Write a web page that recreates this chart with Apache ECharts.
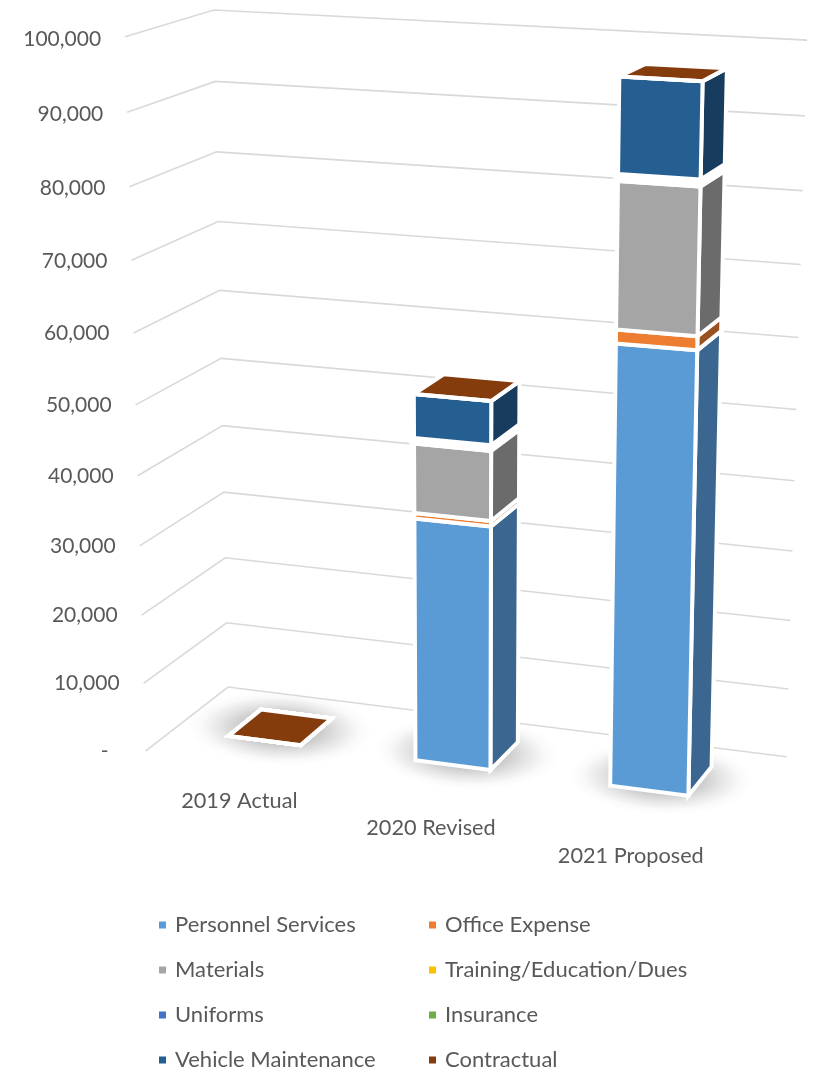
<!DOCTYPE html>
<html>
<head>
<meta charset="utf-8">
<style>html,body{margin:0;padding:0;background:#fff}#chart{width:814px;height:1073px}</style>
<script src="https://cdn.jsdelivr.net/npm/echarts@6/dist/echarts.min.js"></script>
</head>
<body>
<div id="chart"></div>
<script>
// Budget figures by year
const categories = ['2019 Actual', '2020 Revised', '2021 Proposed'];
const personnelServices = [0, 35010, 61760];
const officeExpense = [0, 780, 1880];
const materials = [0, 9780, 19660];
const trainingEducationDues = [0, 220, 250];
const uniforms = [0, 260, 300];
const insurance = [0, 300, 360];
const vehicleMaintenance = [0, 6120, 12630];
const contractual = [0, 0, 0];
const tickValues = [0, 10000, 20000, 30000, 40000, 50000, 60000, 70000, 80000, 90000, 100000];
const tickLabels = ['-', '10,000', '20,000', '30,000', '40,000', '50,000', '60,000', '70,000', '80,000', '90,000', '100,000'];

const stackOrder = [
  { name: 'Personnel Services', values: personnelServices, color: '#5B9BD5', side: '#3A668F' },
  { name: 'Office Expense', values: officeExpense, color: '#ED7D31', side: '#9A5120' },
  { name: 'Materials', values: materials, color: '#A5A5A5', side: '#6B6B6B' },
  { name: 'Training/Education/Dues', values: trainingEducationDues, color: '#FFC000', side: '#A67D00' },
  { name: 'Uniforms', values: uniforms, color: '#4472C4', side: '#2C4A7F' },
  { name: 'Insurance', values: insurance, color: '#70AD47', side: '#49702E' },
  { name: 'Vehicle Maintenance', values: vehicleMaintenance, color: '#255E91', side: '#173C5D' },
  { name: 'Contractual', values: contractual, color: '#843C0C', side: '#562708' }
];

// Three-point perspective: wall corner at the origin, one vanishing point per scene axis
const ORIGIN = [228, 687];
const VANISH_X = [-8860, -449], WEIGHT_X = -0.0579;
const VANISH_Y = [466, 11970], WEIGHT_Y = -0.0566;
const VANISH_Z = [1658, -423], WEIGHT_Z = -0.05455;
const BAR_HALF_WIDTH = 0.195;     // share of a category band
const BAR_SHIFT = -0.002;
const BAR_Z_FRONT = 0.665, BAR_Z_BACK = 0.255;
const TEXT_COLOR = '#595959';
const FONT_FAMILY = 'Lato, "Open Sans", sans-serif';

function project(X, Y, Z) {
  const w = 1 + WEIGHT_X * X + WEIGHT_Y * Y + WEIGHT_Z * Z;
  return [
    (ORIGIN[0] + WEIGHT_X * X * VANISH_X[0] + WEIGHT_Y * Y * VANISH_Y[0] + WEIGHT_Z * Z * VANISH_Z[0]) / w,
    (ORIGIN[1] + WEIGHT_X * X * VANISH_X[1] + WEIGHT_Y * Y * VANISH_Y[1] + WEIGHT_Z * Z * VANISH_Z[1]) / w
  ];
}

// Scene coordinates read through the chart's own axes
function sceneX(params, api, index) {
  return (api.coord([index, 0])[0] - params.coordSys.x) / params.coordSys.width;
}
function sceneY(params, api, value) {
  const c = params.coordSys;
  return (c.y + c.height - api.coord([0, value])[1]) / c.height;
}
function bandShare(params, api) {
  return api.size([1, 0])[0] / params.coordSys.width;
}

function face(points, fill) {
  return {
    type: 'polygon',
    shape: { points },
    style: { fill, stroke: '#fff', lineWidth: 4, lineJoin: 'miter' }
  };
}

function renderSegment(color, side) {
  return function (params, api) {
    const index = api.value(0);
    const cx = sceneX(params, api, index) + BAR_SHIFT;
    const half = bandShare(params, api) * BAR_HALF_WIDTH;
    const y0 = sceneY(params, api, api.value(1));
    const y1 = sceneY(params, api, api.value(2));
    const l = cx - half, r = cx + half, f = BAR_Z_FRONT, b = BAR_Z_BACK;
    return {
      type: 'group',
      children: [
        face([project(l, y1, b), project(r, y1, b), project(r, y1, f), project(l, y1, f)], color),
        face([project(r, y0, f), project(r, y0, b), project(r, y1, b), project(r, y1, f)], side),
        face([project(l, y0, f), project(r, y0, f), project(r, y1, f), project(l, y1, f)], color)
      ]
    };
  };
}

function renderGridline(params, api) {
  const y = sceneY(params, api, api.value(0));
  return {
    type: 'polyline',
    shape: { points: [project(0, y, 1), project(0, y, 0), project(1, y, 0)] },
    style: { fill: 'none', stroke: '#D9D9D9', lineWidth: 1.6 }
  };
}

function renderTickLabel(params, api) {
  const value = api.value(0);
  const p = project(0, sceneY(params, api, value), 1);
  // the dash for zero sits further in, as in an accounting number format
  const inset = value === 0 ? 37 : 24;
  const lift = Math.max(0, (value - 60000) / 40000) * 3;
  return {
    type: 'text',
    style: {
      text: tickLabels[params.dataIndex], x: p[0] - inset, y: p[1] + lift,
      fill: TEXT_COLOR, font: '21px ' + FONT_FAMILY, align: 'right', verticalAlign: 'middle'
    }
  };
}

function renderCategoryLabel(params, api) {
  const index = api.value(0);
  const p = project(sceneX(params, api, index), 0, 1);
  return {
    type: 'text',
    style: {
      text: categories[index], x: p[0] + 1, y: p[1] + 38 + index,
      fill: TEXT_COLOR, font: '21.7px ' + FONT_FAMILY, align: 'center', verticalAlign: 'middle'
    }
  };
}

// Soft pool of shade on the floor under each column
function renderFloorShadow(params, api) {
  const cx = sceneX(params, api, api.value(0));
  const p = project(cx, 0, (BAR_Z_BACK + BAR_Z_FRONT) / 2 + 0.02);
  return {
    type: 'circle',
    x: p[0], y: p[1],
    scaleX: 1, scaleY: 0.4,
    rotation: -0.04,
    shape: { cx: 0, cy: 0, r: 92 },
    style: {
      fill: {
        type: 'radial', x: 0.5, y: 0.5, r: 0.5,
        colorStops: [
          { offset: 0, color: 'rgba(0,0,0,0.26)' },
          { offset: 0.45, color: 'rgba(0,0,0,0.2)' },
          { offset: 0.65, color: 'rgba(0,0,0,0.1)' },
          { offset: 0.85, color: 'rgba(0,0,0,0.025)' },
          { offset: 1, color: 'rgba(0,0,0,0)' }
        ]
      }
    }
  };
}

const baseSeries = [
  { type: 'custom', name: 'shadows', silent: true, renderItem: renderFloorShadow, data: categories.map((c, i) => [i]), encode: { x: 0 } },
  { type: 'custom', name: 'gridlines', silent: true, renderItem: renderGridline, data: tickValues.map(v => [v]), encode: { y: 0 } },
  { type: 'custom', name: 'tickLabels', silent: true, renderItem: renderTickLabel, data: tickValues.map(v => [v]), encode: { y: 0 } },
  { type: 'custom', name: 'categoryLabels', silent: true, renderItem: renderCategoryLabel, data: categories.map((c, i) => [i]), encode: { x: 0 } }
];

const running = categories.map(() => 0);
const stackSeries = stackOrder.map(s => ({
  type: 'custom',
  name: s.name,
  itemStyle: { color: s.color },
  renderItem: renderSegment(s.color, s.side),
  encode: { x: 0, y: [1, 2] },
  data: s.values.map((v, i) => {
    const row = [i, running[i], running[i] + v];
    running[i] += v;
    return row;
  })
}));

function columnLegend(names, left) {
  return {
    orient: 'vertical', left, top: 913,
    data: names, icon: 'rect', itemWidth: 7, itemHeight: 7,
    itemGap: 21, selectedMode: false, padding: 0,
    textStyle: { color: TEXT_COLOR, fontFamily: FONT_FAMILY, fontSize: 22, lineHeight: 24, padding: [0, 0, 0, 4] }
  };
}

const chart = echarts.init(document.getElementById('chart'), null, { renderer: 'canvas' });
chart.setOption({
  animation: false,
  backgroundColor: '#fff',
  tooltip: { show: false },
  grid: { left: 0, right: 0, top: 0, bottom: 0 },
  xAxis: { type: 'category', data: categories, show: false },
  yAxis: { type: 'value', min: 0, max: 100000, interval: 10000, show: false },
  legend: [
    columnLegend(['Personnel Services', 'Materials', 'Uniforms', 'Vehicle Maintenance'], 159),
    columnLegend(['Office Expense', 'Training/Education/Dues', 'Insurance', 'Contractual'], 429)
  ],
  series: baseSeries.concat(stackSeries)
});
</script>
</body>
</html>
